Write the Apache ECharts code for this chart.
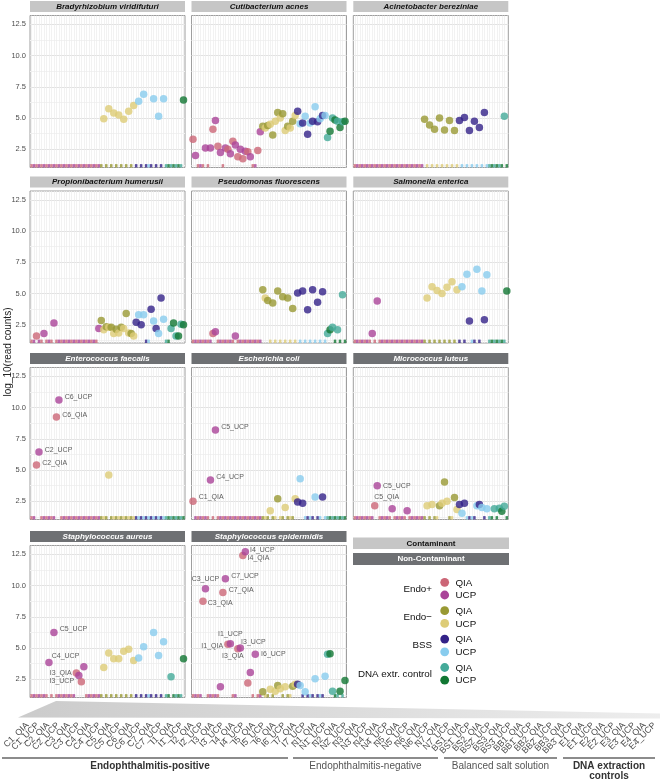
<!DOCTYPE html>
<html><head><meta charset="utf-8">
<script src="https://cdn.jsdelivr.net/npm/echarts@6/dist/echarts.min.js"></script>
<style>html,body{margin:0;padding:0;background:#fff}#c{width:660px;height:780px}</style>
</head><body><div id="c"></div>
<script>
// ---------------- DATA ----------------
const samples = [
 'C1_QIA','C1_UCP','C2_QIA','C2_UCP','C3_QIA','C3_UCP','C4_QIA','C4_UCP','C5_QIA','C5_UCP','C6_QIA','C6_UCP','C7_QIA','C7_UCP',
 'I1_QIA','I1_UCP','I2_QIA','I2_UCP','I3_QIA','I3_UCP','I4_QIA','I4_UCP','I5_QIA','I5_UCP','I6_QIA','I6_UCP','I7_QIA','I7_UCP',
 'N1_QIA','N1_UCP','N2_QIA','N2_UCP','N3_QIA','N3_UCP','N4_QIA','N4_UCP','N5_QIA','N5_UCP','N6_QIA','N6_UCP','N7_QIA','N7_UCP',
 'BS1_QIA','BS1_UCP','BS2_QIA','BS2_UCP','BS3_QIA','BS3_UCP','BB1_QIA','BB1_UCP','BB2_QIA','BB2_UCP','BB3_QIA','BB3_UCP',
 'E1_QIA','E1_UCP','E2_QIA','E2_UCP','E3_QIA','E3_UCP','E4_QIA','E4_UCP'
];
const panelTitles = ['Bradyrhizobium viridifuturi','Cutibacterium acnes','Acinetobacter bereziniae',
 'Propionibacterium humerusii','Pseudomonas fluorescens','Salmonella enterica',
 'Enterococcus faecalis','Escherichia coli','Micrococcus luteus',
 'Staphylococcus aureus','Staphylococcus epidermidis'];
const panelContaminant = [true,true,true,true,true,true,false,false,false,false,false];
// log10(read counts); 0 = not detected (drawn on the bottom strip)
const bradyrhizobium = [
 0,0,0,0,0,0,0,0,0,0,0,0,0,0,
 0,0,0,0,0,0,0,0,0,0,0,0,0,0,
 0,4.95,0,5.75,0,5.4,0,5.25,0,4.9,0,5.55,0,6.0,
 0,6.35,0,6.9,0,0,0,6.55,0,5.15,0,6.55,
 0,0,0,0,0,0,0,6.45];
const cutibacterium = [
 3.3,2.0,0,0,0,2.6,0,2.6,4.1,4.8,2.75,2.25,0,2.6,
 2.5,2.15,3.15,2.85,1.9,2.5,1.75,2.35,2.3,1.9,0,0,2.4,3.9,
 4.35,4.2,4.4,4.5,3.65,4.75,5.45,5.0,5.35,4.0,4.35,4.2,4.75,5.2,
 5.55,4.55,4.6,5.15,3.7,4.6,4.75,5.9,4.7,4.95,5.2,5.2,
 3.45,3.95,5.0,4.85,4.75,4.25,4.7,4.75];
const acinetobacter = [
 0,0,0,0,0,0,0,0,0,0,0,0,0,0,
 0,0,0,0,0,0,0,0,0,0,0,0,0,0,
 4.9,0,4.45,0,4.1,0,5.0,0,4.05,0,4.8,0,4.0,0,
 4.8,0,5.05,0,4.0,0,4.75,0,4.25,0,5.45,0,
 0,0,0,0,0,0,5.15,0];
const propionibacterium = [
 0,0,1.6,0,0,1.8,0,0,0,2.65,0,0,0,0,
 0,0,0,0,0,0,0,0,0,0,0,0,0,2.2,
 2.85,2.1,2.35,2.3,2.3,1.8,2.15,1.85,2.3,2.2,3.4,1.85,1.8,1.6,
 2.7,3.3,2.5,3.3,0,0,3.75,2.8,2.2,1.8,4.65,2.95,
 0,0,2.2,2.65,1.6,1.6,2.55,2.5];
const pseudomonas = [
 0,0,0,0,0,0,0,0,1.8,1.95,0,0,0,0,
 0,0,0,1.6,0,0,0,0,0,0,0,0,0,0,
 5.3,4.65,4.45,0,4.25,0,5.2,0,4.75,0,4.65,0,3.8,0,
 5.05,0,5.2,0,3.7,0,5.3,0,4.3,0,5.15,0,
 1.8,2.1,2.3,0,2.1,0,4.9,0];
const salmonella = [
 0,0,0,0,0,0,0,1.8,0,4.4,0,0,0,0,
 0,0,0,0,0,0,0,0,0,0,0,0,0,0,
 0,4.65,0,5.55,0,5.25,0,5.0,0,5.5,0,5.95,0,5.3,
 0,5.55,0,6.55,2.8,0,0,6.95,0,5.2,2.9,6.5,
 0,0,0,0,0,0,0,5.2];
const enterococcus = [
 0,0,5.4,6.45,0,0,0,0,0,0,9.25,10.6,0,0,
 0,0,0,0,0,0,0,0,0,0,0,0,0,0,
 0,0,0,4.6,0,0,0,0,0,0,0,0,0,0,
 0,0,0,0,0,0,0,0,0,0,0,0,
 0,0,0,0,0,0,0,0];
const escherichia = [
 2.5,0,0,0,0,0,0,4.2,0,8.2,0,0,0,0,
 0,0,0,0,0,0,0,0,0,0,0,0,0,0,
 0,0,0,1.75,0,0,2.7,0,0,2.0,0,0,0,2.7,
 2.45,4.3,2.35,0,0,0,0,2.85,0,0,2.85,0,
 0,0,0,0,0,0,0,0];
const micrococcus = [
 0,0,0,0,0,0,0,0,2.15,3.75,0,0,0,0,
 0,1.9,0,0,0,0,0,1.75,0,0,0,0,0,0,
 0,2.15,0,2.25,0,0,2.15,2.35,4.05,2.5,0,0,2.8,1.85,
 2.25,1.55,2.35,0,0,0,0,2.15,2.25,2.0,0,1.9,
 0,0,1.9,0,1.95,1.7,2.1,0];
const staphAureus = [
 0,0,0,0,0,0,0,3.85,0,6.25,0,0,0,0,
 0,0,0,0,3.0,2.8,2.3,3.5,0,0,0,0,0,0,
 0,3.45,0,4.6,0,4.15,0,4.15,0,4.75,0,4.9,0,4.0,
 0,4.2,0,5.1,0,0,0,6.25,0,4.4,0,5.5,
 0,0,2.7,0,0,0,0,4.15];
const staphEpidermidis = [
 0,0,0,0,8.75,9.75,0,0,0,0,0,1.9,9.45,10.55,
 5.3,5.35,0,0,4.95,5.0,12.4,12.7,2.2,3.05,0,4.5,0,0,
 1.5,0,0,1.7,0,1.55,2.0,1.75,0,1.9,0,0,1.95,2.1,
 2.1,2.0,0,1.5,0,0,0,2.55,0,0,0,2.75,
 4.5,4.55,1.55,0,0,1.55,0,2.4];
const panelValues = [bradyrhizobium,cutibacterium,acinetobacter,propionibacterium,pseudomonas,salmonella,
 enterococcus,escherichia,micrococcus,staphAureus,staphEpidermidis];
// labelled samples per panel index
const labelledSamples = {
 6:['C2_QIA','C2_UCP','C6_QIA','C6_UCP'],
 7:['C1_QIA','C4_UCP','C5_UCP'],
 8:['C5_QIA','C5_UCP'],
 9:['C4_UCP','C5_UCP','I3_QIA','I3_UCP'],
 10:['C3_QIA','C3_UCP','C7_QIA','C7_UCP','I1_QIA','I1_UCP','I3_QIA','I3_UCP','I4_QIA','I4_UCP','I6_UCP']
};
const yTickValues = [2.5,5,7.5,10,12.5];
const yGridValues = [1.25,2.5,3.75,5,6.25,7.5,8.75,10,11.25,12.5];
const groupNames = ['Endo+','Endo\u2212','BSS','DNA extr. control'];
const kitNames = ['QIA','UCP'];
const sampleGroupTitles = ['Endophthalmitis-positive','Endophthalmitis-negative','Balanced salt solution','DNA extraction','controls'];

// ---------------- STYLE / LAYOUT ----------------
const FONT = "'Liberation Sans', Arial, Helvetica, sans-serif";
const palette = [['#CC6677','#AA4499'],['#999933','#DDCC77'],['#332288','#88CCEE'],['#44AA99','#117733']];
const groupOf = n => (n[0]==='C'||n[0]==='I')?0:(n[0]==='N'?1:(n[0]==='B'?2:3));
const colorOf = i => palette[groupOf(samples[i])][samples[i].endsWith('UCP')?1:0];
const COL_LEFT = [30, 191.5, 353.3], PANEL_W = 155;
const ROW_TOP = [15.5, 191, 367.5, 545.5], PANEL_H = 152;
const Y_MIN = 1.05, Y_MAX = 13.2, X_MIN = -0.6, X_MAX = samples.length - 0.4;
const placement = {
 '6:C6_UCP':{p:'right',d:2,o:[0,-3]}, '6:C6_QIA':{p:'right',d:2,o:[0,-2]},
 '6:C2_UCP':{p:'right',d:2,o:[0,-2]}, '6:C2_QIA':{p:'right',d:2,o:[0,-2]},
 '7:C5_UCP':{p:'right',d:2,o:[0,-3]}, '7:C4_UCP':{p:'right',d:2,o:[0,-3]}, '7:C1_QIA':{p:'right',d:2,o:[0,-4]},
 '8:C5_UCP':{p:'right',d:2,o:[0,0]}, '8:C5_QIA':{p:'top',d:1,o:[12,0]},
 '9:C5_UCP':{p:'right',d:2,o:[0,-3]}, '9:C4_UCP':{p:'right',d:-1,o:[0,-6]},
 '9:I3_QIA':{p:'left',d:1,o:[0,0]}, '9:I3_UCP':{p:'left',d:1,o:[0,5]},
 '10:I4_UCP':{p:'right',d:1,o:[0,-2]}, '10:I4_QIA':{p:'right',d:1,o:[0,3]},
 '10:C7_UCP':{p:'right',d:2,o:[0,-3]}, '10:C3_UCP':{p:'top',d:2,o:[0,0]},
 '10:C7_QIA':{p:'right',d:2,o:[0,-2]}, '10:C3_QIA':{p:'right',d:1,o:[0,2]},
 '10:I1_UCP':{p:'top',d:2,o:[0,0]}, '10:I1_QIA':{p:'left',d:1,o:[0,2]},
 '10:I3_UCP':{p:'right',d:-3,o:[0,-6]}, '10:I3_QIA':{p:'bottom',d:0,o:[-5,0]},
 '10:I6_UCP':{p:'right',d:2,o:[0,0]}
};

const grids=[], xAxes=[], yAxes=[], series=[], graphics=[];
panelValues.forEach((vals,k)=>{
  const r=Math.floor(k/3), c=k%3;
  const left=COL_LEFT[c], top=ROW_TOP[r];
  grids.push({left:left, top:top, width:PANEL_W, height:PANEL_H, show:true, borderColor:'#9e9e9e', borderWidth:1, backgroundColor:'#fff'});
  xAxes.push({type:'value', gridIndex:k, min:X_MIN, max:X_MAX, axisLine:{show:false},
    axisTick:{show:false, customValues:samples.map((s,i)=>i)}, axisLabel:{show:false},
    splitLine:{show:true, lineStyle:{color:'#ededed', width:0.7}}});
  yAxes.push({type:'value', gridIndex:k, min:Y_MIN, max:Y_MAX, axisLine:{show:false},
    axisTick:{show:false, customValues:yGridValues},
    axisLabel:{show:c===0, customValues:yTickValues, formatter:v=>v.toFixed(1), fontSize:7.5, color:'#4d4d4d', margin:4, fontFamily:FONT},
    splitLine:{show:true, lineStyle:{color:['#f2f2f2','#e2e2e2'], width:1}}});
  const zeros=[], pts=[];
  vals.forEach((v,i)=>{ if(v>0) pts.push(i); else zeros.push(i); });
  series.push({type:'scatter', xAxisIndex:k, yAxisIndex:k, symbol:'rect', symbolSize:[2.5,3.4], symbolOffset:[0,-1.7],
    silent:true, clip:false, z:2,
    data:zeros.map(i=>({value:[i,Y_MIN], itemStyle:{color:colorOf(i)}}))});
  const labs = labelledSamples[k]||[];
  series.push({type:'scatter', xAxisIndex:k, yAxisIndex:k, symbolSize:7.5, silent:true, clip:false, z:3,
    data:pts.map(i=>{
      const d={value:[i,vals[i]], itemStyle:{color:colorOf(i)}};
      if(labs.indexOf(samples[i])>=0){
        const pl=placement[k+':'+samples[i]]||{p:'right',d:2,o:[0,0]};
        d.label={show:true, formatter:samples[i], position:pl.p, distance:pl.d, offset:pl.o,
          fontSize:7, color:'#333', fontFamily:FONT};
      }
      return d;
    })});
  // strip
  graphics.push({type:'rect', shape:{x:left, y:top-14.5, width:PANEL_W, height:11},
    style:{fill:panelContaminant[k]?'#c6c6c6':'#6e7073'}, z:1});
  graphics.push({type:'text', x:left+PANEL_W/2, y:top-9, style:{text:panelTitles[k], fontSize:8, fontWeight:'bold', fontStyle:'italic',
    fill:panelContaminant[k]?'#111':'#fff', align:'center', verticalAlign:'middle', fontFamily:FONT}, z:2});
});

// bottom label axis
const bk = panelValues.length;
grids.push({left:18.5, top:701, width:641.5, height:20, show:false});
xAxes.push({type:'category', gridIndex:bk, data:samples, boundaryGap:true, axisLine:{show:false}, axisTick:{show:false},
  axisLabel:{interval:0, rotate:45, fontSize:8.8, color:'#4d4d4d', margin:3, fontFamily:FONT}, splitLine:{show:false}});
yAxes.push({type:'value', gridIndex:bk, show:false});

// y title
graphics.push({type:'text', x:8, y:352, rotation:Math.PI/2, style:{text:'log_10(read counts)', fontSize:10, fill:'#222',
  align:'center', verticalAlign:'middle', fontFamily:FONT}});
// funnel
graphics.push({type:'polygon', shape:{points:[[56,701],[660,713.5],[660,718.5],[18,717.5]]},
  style:{fill:{type:'linear',x:0,y:0,x2:1,y2:0,colorStops:[{offset:0,color:'#cbcbcb'},{offset:1,color:'#ededed'}]}}, z:-1});
// brackets
const brackets=[[2,288],[293,438],[444,557],[563,655]];
brackets.forEach(b=>graphics.push({type:'line', shape:{x1:b[0],y1:758,x2:b[1],y2:758}, style:{stroke:'#666', lineWidth:1.4}}));
graphics.push({type:'text', x:150, y:766, style:{text:sampleGroupTitles[0], fontSize:10, fontWeight:'bold', fill:'#333', align:'center', verticalAlign:'middle', fontFamily:FONT}});
graphics.push({type:'text', x:365.5, y:766, style:{text:sampleGroupTitles[1], fontSize:10, fill:'#555', align:'center', verticalAlign:'middle', fontFamily:FONT}});
graphics.push({type:'text', x:500.5, y:766, style:{text:sampleGroupTitles[2], fontSize:10, fill:'#555', align:'center', verticalAlign:'middle', fontFamily:FONT}});
graphics.push({type:'text', x:609, y:766, style:{text:sampleGroupTitles[3], fontSize:10, fontWeight:'bold', fill:'#333', align:'center', verticalAlign:'middle', fontFamily:FONT}});
graphics.push({type:'text', x:609, y:776, style:{text:sampleGroupTitles[4], fontSize:10, fontWeight:'bold', fill:'#333', align:'center', verticalAlign:'middle', fontFamily:FONT}});

// legend boxes
graphics.push({type:'rect', shape:{x:353,y:537.5,width:156,height:11.5}, style:{fill:'#c6c6c6'}});
graphics.push({type:'text', x:431, y:543.3, style:{text:'Contaminant', fontSize:8, fontWeight:'bold', fill:'#111', align:'center', verticalAlign:'middle', fontFamily:FONT}});
graphics.push({type:'rect', shape:{x:353,y:553,width:156,height:12}, style:{fill:'#6e7073'}});
graphics.push({type:'text', x:431, y:559, style:{text:'Non-Contaminant', fontSize:8, fontWeight:'bold', fill:'#fff', align:'center', verticalAlign:'middle', fontFamily:FONT}});
// legend items
groupNames.forEach((g,gi)=>{
  const y0 = 582.3 + gi*28.4;
  graphics.push({type:'text', x:432, y:y0+6.5, style:{text:g, fontSize:9.8, fill:'#111', align:'right', verticalAlign:'middle', fontFamily:FONT}});
  kitNames.forEach((kn,ki)=>{
    const y = y0 + ki*12.7;
    graphics.push({type:'circle', shape:{cx:444.7, cy:y, r:4.4}, style:{fill:palette[gi][ki]}});
    graphics.push({type:'text', x:455.5, y:y+0.5, style:{text:kn, fontSize:9.8, fill:'#111', align:'left', verticalAlign:'middle', fontFamily:FONT}});
  });
});

const chart = echarts.init(document.getElementById('c'), null, {renderer:'canvas', width:660, height:780});
chart.setOption({
  animation:false,
  backgroundColor:'#fff',
  textStyle:{fontFamily:FONT},
  grid:grids, xAxis:xAxes, yAxis:yAxes, series:series, graphic:graphics
});
</script></body></html>
